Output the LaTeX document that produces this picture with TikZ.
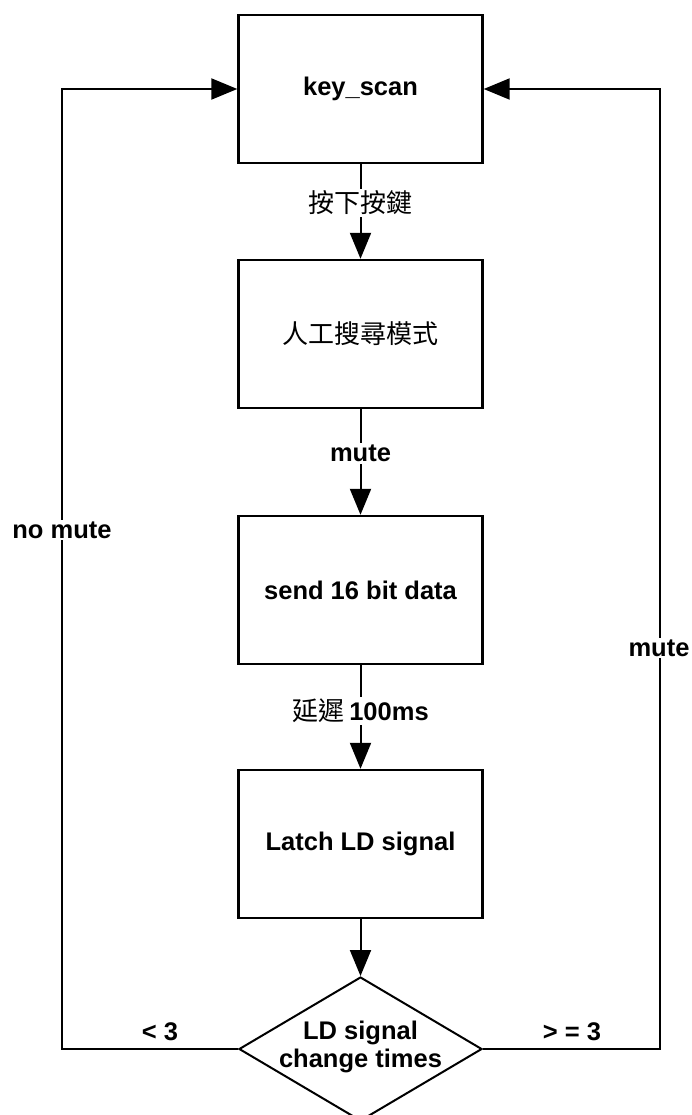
\documentclass[tikz,border=0pt]{standalone}
\usepackage{fontspec}
\setmainfont{Liberation Sans}
\newfontfamily\cjk{Noto Sans CJK TC}
\usetikzlibrary{arrows.meta,shapes.geometric}
\begin{document}
\begin{tikzpicture}[x=1pt,y=-1pt,
  txt/.style={font=\fontsize{25.5}{28}\selectfont\bfseries},
  box/.style={draw, line width=2.4pt, minimum width=244pt, minimum height=148pt, inner sep=0pt, txt},
  dec/.style={draw, diamond, line width=2pt, minimum width=243pt, minimum height=144pt, inner sep=0pt},
  conn/.style={line width=2pt, -{Triangle[length=26pt,width=21pt]}},
  line/.style={line width=2pt},
  lbl/.style={txt, inner sep=2pt},
  wlbl/.style={lbl, fill=white},
  cjklbl/.style={font=\fontsize{26}{28}\selectfont\cjk, inner sep=2pt, fill=white}
]
\fill[white] (0,0) rectangle (691,1115);
\useasboundingbox (0,0) rectangle (691,1115);

\node[box] (k) at (360.5,89) {key\_scan};
\node[box, font=\fontsize{26}{28}\selectfont\cjk] (m) at (360.5,334) {人工搜尋模式};
\node[box] (s) at (360.5,590) {send 16 bit data};
\node[box] (l) at (360.5,844) {Latch LD signal};
\node[dec] (d) at (360.5,1049) {};
\node[txt, align=center, inner sep=0pt] (dt) at (360.5,1047) {LD signal\\change times};

\draw[conn] (k) -- node[cjklbl, pos=0.41] (l1) {按下按鍵} (m);
\draw[conn] (m) -- node[wlbl, pos=0.42] (l2) {mute} (s);
\draw[conn] (s) -- node[pos=0.44, inner sep=2pt, fill=white] (l3) {\fontsize{26}{28}\selectfont\cjk 延遲\hspace{5pt}\bfseries\rmfamily\fontsize{25.5}{28}\selectfont 100ms} (l);
\draw[conn] (l) -- (d);

\coordinate (lc) at (62,1049);
\coordinate (rc) at (660,1049);
\draw[conn] (d.west) -- (lc) |- (k.west);
\draw[conn] (d.east) -- (rc) |- (k.east);

\node[wlbl] (nm) at (62,530) {no mute};
\node[wlbl] (rm) at (659,648) {mute};
\node[lbl] (lt) at (160,1032) {< 3};
\node[lbl] (ge) at (572,1032) {> = 3};
\end{tikzpicture}
\end{document}
